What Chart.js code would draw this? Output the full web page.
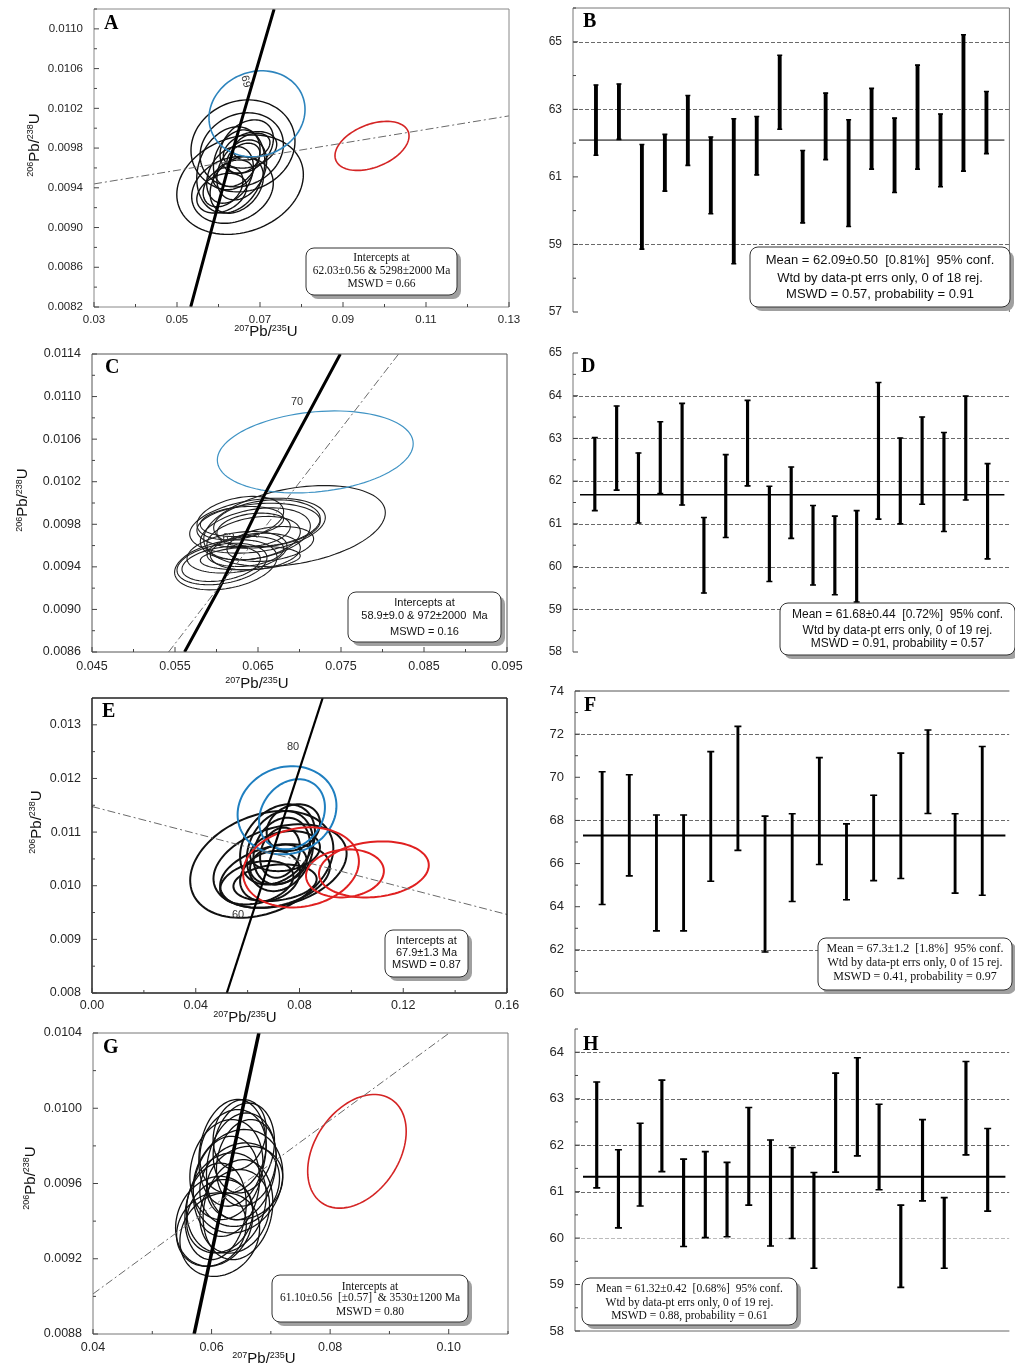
<!DOCTYPE html>
<html>
<head>
<meta charset="utf-8">
<script src="https://cdn.jsdelivr.net/npm/chart.js@4.4.1/dist/chart.umd.min.js"></script>
<style>
  body { margin: 0; background: #fff; }
  #fig { position: relative; width: 1015px; height: 1368px; overflow: hidden; background: #fff; }
  canvas { position: absolute; }
</style>
</head>
<body>
<div id="fig">
  <canvas id="cA" width="520" height="340" style="left:0px;top:0px"></canvas>
  <canvas id="cB" width="495" height="325" style="left:520px;top:0px"></canvas>
  <canvas id="cC" width="525" height="350" style="left:0px;top:340px"></canvas>
  <canvas id="cD" width="495" height="330" style="left:520px;top:340px"></canvas>
  <canvas id="cE" width="525" height="335" style="left:0px;top:690px"></canvas>
  <canvas id="cF" width="495" height="330" style="left:520px;top:680px"></canvas>
  <canvas id="cG" width="525" height="343" style="left:0px;top:1025px"></canvas>
  <canvas id="cH" width="495" height="330" style="left:520px;top:1020px"></canvas>
</div>
<script>
// ---- panel A : concordia ----
var xTicksA = [0.03, 0.05, 0.07, 0.09, 0.11, 0.13];
var xLabelsA = ['0.03', '0.05', '0.07', '0.09', '0.11', '0.13'];
var xMinorA = [0.04, 0.06, 0.08, 0.10, 0.12];
var yTicksA = [0.0082, 0.0086, 0.0090, 0.0094, 0.0098, 0.0102, 0.0106, 0.0110];
var yLabelsA = ['0.0082', '0.0086', '0.0090', '0.0094', '0.0098', '0.0102', '0.0106', '0.0110'];
var yMinorA = [0.0084, 0.0088, 0.0092, 0.0096, 0.0100, 0.0104, 0.0108, 0.0112];
// [207Pb/235U, 206Pb/238U, err x, err y, rho]
var ellA_black = [
  [0.0652, 0.009432, 0.01525, 0.000501, 0.2],
  [0.0659, 0.009822, 0.01253, 0.000463, 0.1],
  [0.0656, 0.009782, 0.01004, 0.000373, 0.15],
  [0.06337, 0.009379, 0.00983, 0.000336, 0.2],
  [0.06296, 0.00958, 0.0082, 0.000434, 0.2],
  [0.0644, 0.009698, 0.00562, 0.000285, 0.3],
  [0.0656, 0.00958, 0.006, 0.000302, 0.3],
  [0.06277, 0.00953, 0.00562, 0.000285, 0.3],
  [0.0668, 0.009815, 0.00643, 0.000269, 0.3],
  [0.0644, 0.009429, 0.00643, 0.000285, 0.3],
  [0.0676, 0.009782, 0.00643, 0.000184, 0.3],
  [0.06077, 0.009346, 0.006, 0.0002, 0.3],
  [0.066, 0.009698, 0.004, 0.000151, 0.3],
  [0.068, 0.009815, 0.0044, 0.000134, 0.3],
  [0.0635, 0.00953, 0.0048, 0.00015, 0.3],
  [0.0611, 0.009409, 0.0048, 0.0002, 0.3]
];
var ellA_blue = [[0.06928, 0.010145, 0.01157, 0.000433, 0.1]];
var ellA_red = [[0.09699, 0.009822, 0.00892, 0.000247, 0.4]];
var concA = [{x: 0.0533, y: 0.0082}, {x: 0.0636, y: 0.0098}, {x: 0.0734, y: 0.0112}];
var discA = [{x: 0.03, y: 0.009439}, {x: 0.13, y: 0.010124}];
var agesA = [{t: '69', x: 0.06655, y: 0.01047}];

// ---- panel B : weighted mean ----
var bLo = [61.64, 62.11, 58.86, 60.58, 61.34, 59.91, 58.43, 61.06, 62.41, 59.64, 61.51, 59.53, 61.23, 60.54, 61.23, 60.71, 61.17, 61.69];
var bHi = [63.72, 63.75, 61.96, 62.26, 63.41, 62.18, 62.72, 62.79, 64.60, 61.78, 63.48, 62.69, 63.62, 62.74, 64.31, 62.86, 65.21, 63.53];
var meanB = 62.09;
var yTicksB = [57, 59, 61, 63, 65];
var yMinorB = [58, 60, 62, 64, 66];
var gridB = [59, 63, 65];

// ---- panel C ----
var xTicksC = [0.045, 0.055, 0.065, 0.075, 0.085, 0.095];
var xLabelsC = ['0.045', '0.055', '0.065', '0.075', '0.085', '0.095'];
var xMinorC = [0.05, 0.06, 0.07, 0.08, 0.09];
var yTicksC = [0.0086, 0.0090, 0.0094, 0.0098, 0.0102, 0.0106, 0.0110, 0.0114];
var yLabelsC = ['0.0086', '0.0090', '0.0094', '0.0098', '0.0102', '0.0106', '0.0110', '0.0114'];
var yMinorC = [0.0088, 0.0092, 0.0096, 0.0100, 0.0104, 0.0108, 0.0112];
var ellC_black = [
  [0.0694, 0.009784, 0.01094, 0.00038, 0.33],
  [0.06494, 0.009787, 0.00817, 0.000258, 0.3],
  [0.06507, 0.009787, 0.00743, 0.000211, 0.2],
  [0.06468, 0.00971, 0.00663, 0.000244, 0.3],
  [0.06608, 0.009811, 0.00642, 0.000219, 0.2],
  [0.06447, 0.00967, 0.00563, 0.000204, 0.3],
  [0.06447, 0.009748, 0.00442, 0.000157, 0.2],
  [0.06307, 0.009826, 0.00502, 0.000141, 0.2],
  [0.06648, 0.009615, 0.00522, 0.000164, 0.3],
  [0.06112, 0.009419, 0.00617, 0.000235, 0.3],
  [0.06066, 0.009427, 0.00542, 0.000195, 0.3],
  [0.06056, 0.009427, 0.00472, 0.000164, 0.3],
  [0.06407, 0.009482, 0.00602, 0.00011, 0.2],
  [0.06468, 0.009544, 0.00542, 0.000172, 0.2],
  [0.06247, 0.009537, 0.00602, 0.000195, 0.3],
  [0.06347, 0.009544, 0.00462, 0.000141, 0.2],
  [0.06287, 0.009858, 0.00522, 0.000204, 0.3]
];
var ellC_blue = [[0.0719, 0.01048, 0.0118, 0.000385, 0.2]];
var concC = [{x: 0.05615, y: 0.0086}, {x: 0.06025, y: 0.009185}, {x: 0.06588, y: 0.010092}, {x: 0.0713, y: 0.010874}, {x: 0.07492, y: 0.0114}];
var discC = [{x: 0.05423, y: 0.0086}, {x: 0.08194, y: 0.0114}];
var agesC = [{t: '70', x: 0.0697, y: 0.010952}, {t: '62', x: 0.06146, y: 0.00967}];

// ---- panel D ----
var dLo = [61.31, 61.79, 61.02, 61.71, 61.44, 59.38, 60.68, 61.89, 59.65, 60.66, 59.57, 59.34, 59.17, 61.11, 61.00, 61.46, 60.82, 61.56, 60.18];
var dHi = [63.02, 63.76, 62.66, 63.39, 63.82, 61.15, 62.62, 63.89, 61.88, 62.33, 61.43, 61.18, 61.31, 64.31, 63.01, 63.50, 63.14, 63.99, 62.41];
var meanD = 61.68;
var yTicksD = [58, 59, 60, 61, 62, 63, 64, 65];
var yMinorD = [58.5, 59.5, 60.5, 61.5, 62.5, 63.5, 64.5];
var gridD = [59, 60, 61, 62, 63, 64];

// ---- panel E ----
var xTicksE = [0, 0.04, 0.08, 0.12, 0.16];
var xLabelsE = ['0.00', '0.04', '0.08', '0.12', '0.16'];
var xMinorE = [0.02, 0.06, 0.10, 0.14];
var yTicksE = [0.008, 0.009, 0.010, 0.011, 0.012, 0.013];
var yLabelsE = ['0.008', '0.009', '0.010', '0.011', '0.012', '0.013'];
var yMinorE = [0.0085, 0.0095, 0.0105, 0.0115, 0.0125];
var ellE_black = [
  [0.06545, 0.010398, 0.0276, 0.000996, 0.3],
  [0.0725, 0.010366, 0.02567, 0.000779, 0.3],
  [0.07057, 0.01018, 0.02117, 0.000592, 0.3],
  [0.07153, 0.010771, 0.01444, 0.000747, 0.3],
  [0.0725, 0.010646, 0.01282, 0.000747, 0.2],
  [0.07315, 0.010646, 0.0109, 0.000622, 0.2],
  [0.0725, 0.010616, 0.0077, 0.000467, 0.2],
  [0.06865, 0.01018, 0.01155, 0.000467, 0.2],
  [0.06352, 0.010056, 0.01412, 0.000405, 0.3],
  [0.07442, 0.010646, 0.01347, 0.000374, 0.2],
  [0.07057, 0.010056, 0.01605, 0.000342, 0.2],
  [0.07762, 0.011083, 0.01028, 0.000435, 0.2],
  [0.07184, 0.010398, 0.0109, 0.000374, 0.2]
];
var ellE_blue = [[0.07519, 0.011407, 0.01906, 0.000822, 0.1], [0.07711, 0.011332, 0.0127, 0.000654, 0.2]];
var ellE_red = [[0.08058, 0.010342, 0.02233, 0.000747, 0.15], [0.09752, 0.01023, 0.01501, 0.000448, 0.1], [0.10868, 0.010304, 0.02117, 0.000523, 0.15]];
var concE = [{x: 0.05197, y: 0.008}, {x: 0.08893, y: 0.0135}];
var discE = [{x: 0, y: 0.011476}, {x: 0.16, y: 0.009464}];
var agesE = [{t: '80', x: 0.0775, y: 0.012583}, {t: '60', x: 0.05632, y: 0.009464}];

// ---- panel F ----
var fLo = [64.10, 65.43, 62.88, 62.88, 65.18, 66.61, 61.90, 64.24, 65.96, 64.32, 65.21, 65.31, 68.32, 64.63, 64.53];
var fHi = [70.26, 70.12, 68.25, 68.25, 71.19, 72.36, 68.20, 68.31, 70.91, 67.84, 69.17, 71.12, 72.19, 68.31, 71.43];
var meanF = 67.3;
var yTicksF = [60, 62, 64, 66, 68, 70, 72, 74];
var yMinorF = [61, 63, 65, 67, 69, 71, 73];
var gridF = [62, 68, 72];

// ---- panel G ----
var xTicksG = [0.04, 0.06, 0.08, 0.10];
var xLabelsG = ['0.04', '0.06', '0.08', '0.10'];
var xMinorG = [0.05, 0.07, 0.09, 0.11];
var yTicksG = [0.0088, 0.0092, 0.0096, 0.0100, 0.0104];
var yLabelsG = ['0.0088', '0.0092', '0.0096', '0.0100', '0.0104'];
var yMinorG = [0.0090, 0.0094, 0.0098, 0.0102];
var ellG_black = [
  [0.06353, 0.009763, 0.00568, 0.000284, 0.15],
  [0.06544, 0.009789, 0.00517, 0.000239, 0.15],
  [0.06502, 0.009691, 0.00588, 0.000284, 0.15],
  [0.06445, 0.009612, 0.00756, 0.000275, 0.15],
  [0.0625, 0.009497, 0.00672, 0.000266, 0.15],
  [0.06045, 0.009399, 0.00652, 0.000239, 0.15],
  [0.06138, 0.009328, 0.00672, 0.000222, 0.15],
  [0.06445, 0.009461, 0.00588, 0.000266, 0.15],
  [0.0625, 0.009585, 0.00559, 0.000266, 0.15],
  [0.06474, 0.009594, 0.00672, 0.000222, 0.15],
  [0.06067, 0.009452, 0.00517, 0.000257, 0.15],
  [0.06586, 0.00971, 0.00504, 0.00023, 0.15],
  [0.06361, 0.009771, 0.00559, 0.000222, 0.15],
  [0.05998, 0.009355, 0.00588, 0.000195, 0.15],
  [0.06558, 0.009603, 0.00643, 0.000195, 0.15],
  [0.0625, 0.009674, 0.00616, 0.000266, 0.15],
  [0.0639, 0.009452, 0.00588, 0.000222, 0.15],
  [0.06474, 0.00986, 0.00448, 0.000186, 0.15],
  [0.06138, 0.009426, 0.00559, 0.000195, 0.15]
];
var ellG_red = [[0.08452, 0.009771, 0.00831, 0.000302, 0.35]];
var concG = [{x: 0.05706, y: 0.0088}, {x: 0.06798, y: 0.0104}];
var discG = [{x: 0.04, y: 0.009013}, {x: 0.1001, y: 0.0104}];

// ---- panel H ----
var hLo = [61.08, 60.22, 60.69, 61.43, 59.82, 60.01, 60.03, 60.71, 59.83, 59.99, 59.35, 61.42, 61.77, 61.04, 58.94, 60.80, 59.35, 61.79, 60.58];
var hHi = [63.36, 61.90, 62.47, 63.40, 61.70, 61.86, 61.63, 62.81, 62.11, 61.95, 61.41, 63.55, 63.88, 62.88, 60.71, 62.55, 60.87, 63.80, 62.36];
var meanH = 61.32;
var yTicksH = [58, 59, 60, 61, 62, 63, 64];
var yMinorH = [58.5, 59.5, 60.5, 61.5, 62.5, 63.5, 64.5];
var gridH = [61, 62, 63, 64];
var gridFaintH = [60];

var SANS = "'Liberation Sans', Arial, 'DejaVu Sans', sans-serif";
var SERIF = "'Liberation Serif', 'Times New Roman', serif";

function near(list, v) {
  return list.some(function(m) { return Math.abs(m - v) < 1e-9; });
}

// axis with fixed ticks (labelled + unlabelled minor ones)
function axis(min, max, major, minor, labels, horiz, size, pad, fontSize) {
  return {
    type: 'linear', min: min, max: max,
    grid: { display: false, drawTicks: false },
    border: { display: false },
    ticks: {
      autoSkip: false, maxRotation: 0, padding: pad, color: '#262626',
      font: { family: SANS, size: fontSize },
      callback: function(v) {
        for (var i = 0; i < major.length; i++) {
          if (Math.abs(major[i] - v) < 1e-9) return labels[i];
        }
        return '';
      }
    },
    afterBuildTicks: function(s) {
      s.ticks = major.concat(minor).sort(function(a, b) { return a - b; }).map(function(v) { return { value: v }; });
    },
    afterFit: function(s) {
      if (horiz) s.height = size; else s.width = size;
      // the panels are laid out by hand, no extra room for edge labels
      s.paddingTop = 0; s.paddingBottom = 0; s.paddingLeft = 0; s.paddingRight = 0;
    }
  };
}

function drawEllipse(ctx, xs, ys, e) {
  var px = xs.getPixelForValue(e[0]), py = ys.getPixelForValue(e[1]);
  var w = xs.getPixelForValue(e[0] + e[2]) - px;
  var h = ys.getPixelForValue(e[1] + e[3]) - py;
  var rho = e[4], k = Math.sqrt(1 - rho * rho);
  ctx.beginPath();
  for (var i = 0; i <= 96; i++) {
    var t = i / 96 * 2 * Math.PI;
    var X = px + w * Math.cos(t), Y = py + h * (rho * Math.cos(t) + k * Math.sin(t));
    if (i) ctx.lineTo(X, Y); else ctx.moveTo(X, Y);
  }
  ctx.closePath();
  ctx.stroke();
}

// text with superscript parts ('^207')
function drawRich(ctx, parts, x, y, rot, size) {
  ctx.save();
  ctx.translate(x, y);
  ctx.rotate(rot);
  var sup = Math.round(size * 0.62);
  var widths = [], total = 0;
  parts.forEach(function(p) {
    var s = p[0] === '^';
    ctx.font = (s ? sup : size) + 'px ' + SANS;
    var w = ctx.measureText(s ? p.slice(1) : p).width;
    widths.push(w); total += w;
  });
  var cx = -total / 2;
  ctx.fillStyle = '#111';
  ctx.textAlign = 'left';
  ctx.textBaseline = 'alphabetic';
  parts.forEach(function(p, i) {
    var s = p[0] === '^';
    ctx.font = (s ? sup : size) + 'px ' + SANS;
    ctx.fillText(s ? p.slice(1) : p, cx, s ? size * 0.35 - size * 0.38 : size * 0.35);
    cx += widths[i];
  });
  ctx.restore();
}

function hLines(ctx, a, ys, vals, color) {
  ctx.strokeStyle = color;
  ctx.lineWidth = 0.8;
  ctx.setLineDash([4, 2]);
  vals.forEach(function(v) {
    var y = Math.round(ys.getPixelForValue(v)) + 0.5;
    ctx.beginPath(); ctx.moveTo(a.left, y); ctx.lineTo(a.right, y); ctx.stroke();
  });
  ctx.setLineDash([]);
}

var figPlugin = {
  id: 'fig',
  beforeDatasetsDraw: function(chart, args, o) {
    var ctx = chart.ctx, a = chart.chartArea, xs = chart.scales.x, ys = chart.scales.y;
    ctx.save();
    ctx.beginPath();
    ctx.rect(a.left, a.top, a.right - a.left, a.bottom - a.top);
    ctx.clip();
    if (o.refs) hLines(ctx, a, ys, o.refs, '#444');
    if (o.faint) hLines(ctx, a, ys, o.faint, '#aaa');
    (o.ellipses || []).forEach(function(g) {
      ctx.strokeStyle = g.color;
      ctx.lineWidth = g.width;
      g.list.forEach(function(e) { drawEllipse(ctx, xs, ys, e); });
    });
    ctx.restore();
  },
  afterDatasetsDraw: function(chart, args, o) {
    var ctx = chart.ctx, a = chart.chartArea, xs = chart.scales.x, ys = chart.scales.y;
    ctx.save();
    if (o.mean) {
      var my = ys.getPixelForValue(o.mean.value);
      ctx.strokeStyle = '#000';
      ctx.lineWidth = o.mean.width;
      ctx.beginPath(); ctx.moveTo(a.left + o.mean.l, my); ctx.lineTo(a.right - o.mean.r, my); ctx.stroke();
    }
    // frame
    var f = o.frame;
    ctx.strokeStyle = f.color;
    ctx.lineWidth = f.width;
    ctx.beginPath();
    if (f.sides.indexOf('l') >= 0) { ctx.moveTo(a.left, a.top); ctx.lineTo(a.left, a.bottom); }
    if (f.sides.indexOf('r') >= 0) { ctx.moveTo(a.right, a.top); ctx.lineTo(a.right, a.bottom); }
    if (f.sides.indexOf('t') >= 0) { ctx.moveTo(a.left, a.top); ctx.lineTo(a.right, a.top); }
    if (f.sides.indexOf('b') >= 0) { ctx.moveTo(a.left, a.bottom); ctx.lineTo(a.right, a.bottom); }
    ctx.stroke();
    // inward tick marks
    ctx.strokeStyle = '#444';
    ctx.lineWidth = 1;
    ctx.beginPath();
    ys.ticks.forEach(function(t) {
      var y = ys.getPixelForValue(t.value), len = near(o.yMajor, t.value) ? 5 : 3;
      ctx.moveTo(a.left, y); ctx.lineTo(a.left + len, y);
    });
    if (o.xMajor) {
      xs.ticks.forEach(function(t) {
        var x = xs.getPixelForValue(t.value), len = near(o.xMajor, t.value) ? 5 : 3;
        ctx.moveTo(x, a.bottom); ctx.lineTo(x, a.bottom - len);
      });
    }
    ctx.stroke();
    // concordia age labels
    ctx.fillStyle = '#333';
    ctx.font = '11px ' + SANS;
    ctx.textAlign = 'center';
    ctx.textBaseline = 'middle';
    (o.ages || []).forEach(function(g) {
      ctx.save();
      ctx.translate(xs.getPixelForValue(g.x), ys.getPixelForValue(g.y));
      if (o.ageRot) ctx.rotate(o.ageRot);
      ctx.fillText(g.t, 0, 0);
      ctx.restore();
    });
    // results box
    var b = o.box;
    if (b) {
      ctx.fillStyle = '#a0a0a0';
      ctx.beginPath(); ctx.roundRect(b.x + 4, b.y + 4, b.w, b.h, 8); ctx.fill();
      ctx.fillStyle = '#fff';
      ctx.strokeStyle = '#333';
      ctx.lineWidth = 1;
      ctx.beginPath(); ctx.roundRect(b.x, b.y, b.w, b.h, 8); ctx.fill(); ctx.stroke();
      ctx.fillStyle = '#111';
      ctx.font = b.font;
      ctx.textAlign = 'center';
      ctx.textBaseline = 'middle';
      b.lines.forEach(function(t, i) { ctx.fillText(t, b.x + b.w / 2, b.ly[i]); });
    }
    // panel letter
    ctx.fillStyle = '#000';
    ctx.font = 'bold 20px ' + SERIF;
    ctx.textAlign = 'left';
    ctx.textBaseline = 'alphabetic';
    ctx.fillText(o.letter.t, o.letter.x, o.letter.y);
    // axis titles
    (o.titles || []).forEach(function(t) { drawRich(ctx, t.parts, t.x, t.y, t.rot, 15); });
    ctx.restore();
  }
};

function isoChart(id, d) {
  return new Chart(document.getElementById(id), {
    type: 'scatter',
    data: {
      datasets: [
        { data: d.disc, showLine: true, borderColor: '#6a6a6a', borderWidth: 1, borderDash: [8, 3, 2, 3], pointRadius: 0 },
        { data: d.conc, showLine: true, borderColor: '#000', borderWidth: d.concW, pointRadius: 0 }
      ]
    },
    options: {
      responsive: false,
      animation: false,
      layout: { padding: { top: d.padTop, right: d.padRight, bottom: 0, left: 0 } },
      scales: {
        x: axis(d.xr[0], d.xr[1], d.xT, d.xM, d.xL, true, d.xH, d.xPad, d.font),
        y: axis(d.yr[0], d.yr[1], d.yT, d.yM, d.yL, false, d.yW, 11, d.font)
      },
      plugins: {
        legend: { display: false },
        tooltip: { enabled: false },
        fig: {
          ellipses: d.ell, frame: d.frame, xMajor: d.xT, yMajor: d.yT,
          ages: d.ages, ageRot: d.ageRot, box: d.box, letter: d.letter,
          titles: [
            { parts: ['^207', 'Pb', '/', '^235', 'U'], x: d.xTitle[0], y: d.xTitle[1], rot: 0 },
            { parts: ['^206', 'Pb', '/', '^238', 'U'], x: d.yTitle[0], y: d.yTitle[1], rot: -Math.PI / 2 }
          ]
        }
      }
    },
    plugins: [figPlugin]
  });
}

function wmChart(id, d) {
  var bars = d.lo.map(function(v, i) { return { x: i + 1, y: [v, d.hi[i]] }; });
  var caps = d.lo.map(function(v, i) { return { x: i + 1, y: v }; })
    .concat(d.hi.map(function(v, i) { return { x: i + 1, y: v }; }));
  return new Chart(document.getElementById(id), {
    type: 'bar',
    data: {
      datasets: [
        { type: 'bar', data: bars, backgroundColor: '#000', borderWidth: 0, barThickness: d.barW },
        { type: 'scatter', data: caps, pointStyle: 'line', pointRadius: d.capR, borderColor: '#000', borderWidth: 1.6 }
      ]
    },
    options: {
      responsive: false,
      animation: false,
      layout: { padding: { top: d.padTop, right: d.padRight, bottom: d.padBottom, left: 0 } },
      scales: {
        x: { type: 'linear', min: 0, max: d.xMax, display: false, offset: false },
        y: axis(d.yr[0], d.yr[1], d.yT, d.yM, d.yT.map(String), false, d.yW, 11, d.font)
      },
      plugins: {
        legend: { display: false },
        tooltip: { enabled: false },
        fig: {
          refs: d.grid, faint: d.faint, mean: d.mean, frame: d.frame, yMajor: d.yT,
          box: d.box, letter: d.letter
        }
      }
    },
    plugins: [figPlugin]
  });
}

isoChart('cA', {
  xr: [0.03, 0.13], yr: [0.0082, 0.0112],
  xT: xTicksA, xM: xMinorA, xL: xLabelsA, yT: yTicksA, yM: yMinorA, yL: yLabelsA,
  font: 11.5, xH: 33, xPad: 6, yW: 94, padTop: 9, padRight: 11,
  disc: discA, conc: concA, concW: 3,
  ell: [
    { list: ellA_black, color: '#111', width: 1.4 },
    { list: ellA_blue, color: '#2d84bd', width: 1.6 },
    { list: ellA_red, color: '#d42424', width: 1.6 }
  ],
  ages: agesA, ageRot: Math.PI / 2 - 0.25,
  frame: { sides: 'lrtb', color: '#888', width: 1 },
  box: { x: 306, y: 248, w: 151, h: 47, font: '11.5px ' + SERIF, ly: [258, 271, 284],
    lines: ['Intercepts at', '62.03\u00b10.56 & 5298\u00b12000 Ma', 'MSWD = 0.66'] },
  letter: { t: 'A', x: 104, y: 29 },
  xTitle: [266, 331], yTitle: [33.5, 145]
});

wmChart('cB', {
  lo: bLo, hi: bHi, xMax: 19, yr: [57, 66], yT: yTicksB, yM: yMinorB, grid: gridB,
  font: 12, yW: 53, padTop: 8, padRight: 1, padBottom: 13, barW: 3.2, capR: 2.5,
  mean: { value: meanB, width: 1, l: 6, r: 5 },
  frame: { sides: 'ltr', color: '#777', width: 1 },
  box: { x: 230, y: 247, w: 260, h: 60, font: '13px ' + SANS, ly: [260, 278, 294],
    lines: ['Mean = 62.09\u00b10.50  [0.81%]  95% conf.', 'Wtd by data-pt errs only, 0 of 18 rej.', 'MSWD = 0.57, probability = 0.91'] },
  letter: { t: 'B', x: 63, y: 27 }
});

isoChart('cC', {
  xr: [0.045, 0.095], yr: [0.0086, 0.0114],
  xT: xTicksC, xM: xMinorC, xL: xLabelsC, yT: yTicksC, yM: yMinorC, yL: yLabelsC,
  font: 12.5, xH: 38, xPad: 7, yW: 92, padTop: 14, padRight: 18,
  disc: discC, conc: concC, concW: 3,
  ell: [
    { list: ellC_black, color: '#1e1e1e', width: 1.1 },
    { list: ellC_blue, color: '#3f93c4', width: 1.2 }
  ],
  ages: agesC, ageRot: 0,
  frame: { sides: 'lrtb', color: '#555', width: 1 },
  box: { x: 348, y: 252, w: 153, h: 50, font: '11px ' + SANS, ly: [263, 276, 292],
    lines: ['Intercepts at', '58.9\u00b19.0 & 972\u00b12000  Ma', 'MSWD = 0.16'] },
  letter: { t: 'C', x: 105, y: 33 },
  xTitle: [257, 343], yTitle: [22, 160]
});

wmChart('cD', {
  lo: dLo, hi: dHi, xMax: 20, yr: [58, 65], yT: yTicksD, yM: yMinorD, grid: gridD,
  font: 12, yW: 53, padTop: 13, padRight: 0, padBottom: 18, barW: 2.5, capR: 3,
  mean: { value: meanD, width: 1.5, l: 7, r: 5 },
  frame: { sides: 'l', color: '#777', width: 1 },
  box: { x: 260, y: 263, w: 235, h: 52, font: '12px ' + SANS, ly: [275, 291, 304],
    lines: ['Mean = 61.68\u00b10.44  [0.72%]  95% conf.', 'Wtd by data-pt errs only, 0 of 19 rej.', 'MSWD = 0.91, probability = 0.57'] },
  letter: { t: 'D', x: 61, y: 32 }
});

isoChart('cE', {
  xr: [0, 0.16], yr: [0.008, 0.0135],
  xT: xTicksE, xM: xMinorE, xL: xLabelsE, yT: yTicksE, yM: yMinorE, yL: yLabelsE,
  font: 12.5, xH: 32, xPad: 5, yW: 92, padTop: 8, padRight: 18,
  disc: discE, conc: concE, concW: 2.2,
  ell: [
    { list: ellE_black, color: '#111', width: 2 },
    { list: ellE_blue, color: '#1f7fc0', width: 2 },
    { list: ellE_red, color: '#e02020', width: 2 }
  ],
  ages: agesE, ageRot: 0,
  frame: { sides: 'lrtb', color: '#222', width: 1.5 },
  box: { x: 385, y: 240, w: 83, h: 47, font: '11px ' + SANS, ly: [251, 263, 275],
    lines: ['Intercepts at', '67.9\u00b11.3 Ma', 'MSWD = 0.87'] },
  letter: { t: 'E', x: 102, y: 27 },
  xTitle: [245, 327], yTitle: [35.5, 132]
});

wmChart('cF', {
  lo: fLo, hi: fHi, xMax: 16, yr: [60, 74], yT: yTicksF, yM: yMinorF, grid: gridF,
  font: 13, yW: 55, padTop: 11, padRight: 0, padBottom: 17, barW: 2.2, capR: 3.5,
  mean: { value: meanF, width: 2, l: 8, r: 4 },
  frame: { sides: 'ltb', color: '#555', width: 1 },
  box: { x: 298, y: 258, w: 194, h: 52, font: '12px ' + SERIF, ly: [269, 283, 297],
    lines: ['Mean = 67.3\u00b11.2  [1.8%]  95% conf.', 'Wtd by data-pt errs only, 0 of 15 rej.', 'MSWD = 0.41, probability = 0.97'] },
  letter: { t: 'F', x: 64, y: 31 }
});

isoChart('cG', {
  xr: [0.04, 0.11], yr: [0.0088, 0.0104],
  xT: xTicksG, xM: xMinorG, xL: xLabelsG, yT: yTicksG, yM: yMinorG, yL: yLabelsG,
  font: 12.5, xH: 34, xPad: 6, yW: 93, padTop: 8, padRight: 17,
  disc: discG, conc: concG, concW: 3.5,
  ell: [
    { list: ellG_black, color: '#111', width: 1.3 },
    { list: ellG_red, color: '#d42424', width: 1.6 }
  ],
  ages: [], ageRot: 0,
  frame: { sides: 'lrtb', color: '#777', width: 1 },
  box: { x: 272, y: 250, w: 196, h: 47, font: '11.5px ' + SERIF, ly: [261.7, 273, 286.7],
    lines: ['Intercepts at', '61.10\u00b10.56  [\u00b10.57]  & 3530\u00b11200 Ma', 'MSWD = 0.80'] },
  letter: { t: 'G', x: 103, y: 28 },
  xTitle: [264, 333], yTitle: [29.5, 153]
});

wmChart('cH', {
  lo: hLo, hi: hHi, xMax: 20, yr: [58, 64.5], yT: yTicksH, yM: yMinorH, grid: gridH, faint: gridFaintH,
  font: 13, yW: 55, padTop: 9, padRight: 0, padBottom: 19, barW: 2.5, capR: 3.5,
  mean: { value: meanH, width: 2, l: 8, r: 4 },
  frame: { sides: 'lb', color: '#666', width: 1 },
  box: { x: 62, y: 258, w: 215, h: 47, font: '11.5px ' + SERIF, ly: [269, 283, 296],
    lines: ['Mean = 61.32\u00b10.42  [0.68%]  95% conf.', 'Wtd by data-pt errs only, 0 of 19 rej.', 'MSWD = 0.88, probability = 0.61'] },
  letter: { t: 'H', x: 63, y: 30 }
});
</script>
</body>
</html>
